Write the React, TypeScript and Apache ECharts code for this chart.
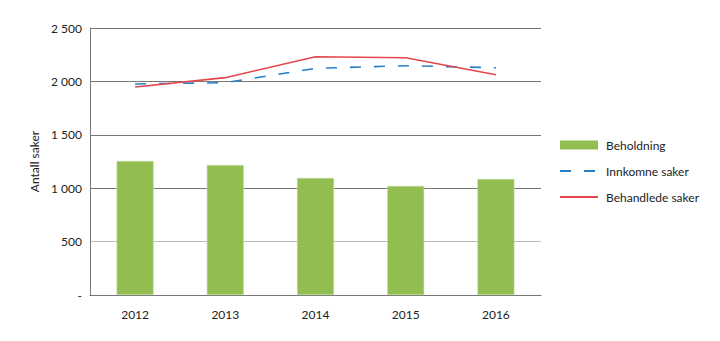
import React, { useEffect, useRef } from "react";
import * as echarts from "echarts";

const categories = ["2012", "2013", "2014", "2015", "2016"];
const beholdning = [1255, 1217, 1096, 1021, 1086];
const innkomne = [1976, 1988, 2122, 2147, 2128];
const behandlede = [1948, 2035, 2231, 2222, 2063];
const yTicks = [0, 500, 1000, 1500, 2000, 2500];

const FONT = "Lato, 'Noto Sans', sans-serif";

export default function App() {
  const ref = useRef<HTMLDivElement>(null);
  useEffect(() => {
    if (!ref.current) return;
    const chart = echarts.init(ref.current, null, { renderer: "svg" });
    chart.setOption({
      animation: false,
      textStyle: { fontFamily: FONT },
      grid: { left: 90, right: 179, top: 28, bottom: 46, containLabel: false },
      legend: {
        orient: "vertical",
        left: 554,
        top: 134,
        itemWidth: 38,
        itemHeight: 9,
        itemGap: 14,
        textStyle: { fontFamily: FONT, fontSize: 12, color: "#222", padding: [0, 0, 0, 3] },
        data: [
          { name: "Beholdning", icon: "rect", itemStyle: { borderWidth: 0 } },
          { name: "Innkomne saker", itemStyle: { opacity: 0 } },
          { name: "Behandlede saker", itemStyle: { opacity: 0 } },
        ],
      },
      xAxis: {
        type: "category",
        data: categories,
        axisLine: { show: true, lineStyle: { color: "#777", width: 1 } },
        axisTick: { show: false },
        axisLabel: { color: "#222", fontSize: 12, margin: 13, fontFamily: FONT },
      },
      yAxis: {
        type: "value",
        min: yTicks[0],
        max: yTicks[yTicks.length - 1],
        interval: 500,
        name: "Antall saker",
        nameLocation: "middle",
        nameGap: 50,
        nameTextStyle: { color: "#222", fontSize: 12, fontFamily: FONT },
        axisLine: { show: true, lineStyle: { color: "#777", width: 1 } },
        axisTick: { show: false },
        axisLabel: {
          color: "#222",
          fontSize: 12,
          margin: 8,
          fontFamily: FONT,
          formatter: (v: number) =>
            v === 0 ? "-" : v.toString().replace(/\B(?=(\d{3})+(?!\d))/g, " "),
        },
        splitLine: {
          show: true,
          lineStyle: { color: ["#777", "#bbb", "#777", "#777", "#777", "#777"], width: 1 },
        },
      },
      series: [
        {
          name: "Beholdning",
          type: "bar",
          data: beholdning,
          barWidth: 37,
          itemStyle: { color: "#92bd51", borderColor: "#c5de9f", borderWidth: 0.6 },
        },
        {
          name: "Innkomne saker",
          type: "line",
          data: innkomne,
          symbol: "none",
          lineStyle: { color: "#2a7fc4", width: 1.6, type: [11, 13] },
          itemStyle: { color: "#2a7fc4" },
        },
        {
          name: "Behandlede saker",
          type: "line",
          data: behandlede,
          symbol: "none",
          lineStyle: { color: "#e5464b", width: 1.6 },
          itemStyle: { color: "#e5464b" },
        },
      ],
    });
    return () => chart.dispose();
  }, []);
  return <div ref={ref} style={{ width: 720, height: 341, margin: -8 }} />;
}
